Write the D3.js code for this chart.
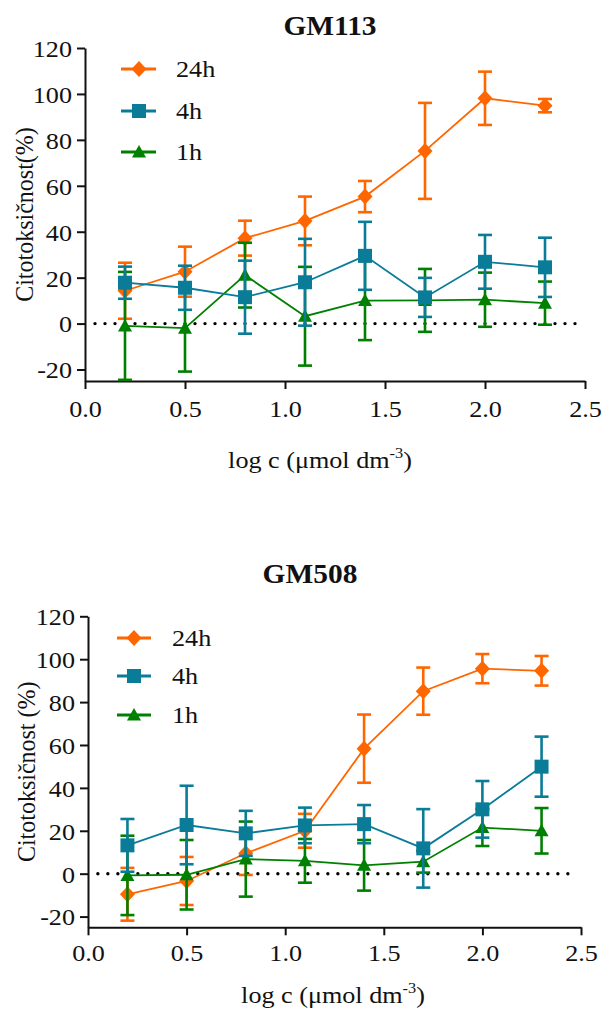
<!DOCTYPE html>
<html>
<head>
<meta charset="utf-8">
<script src="https://cdn.jsdelivr.net/npm/d3@7"></script>
<style>
  html, body { margin: 0; padding: 0; background: #fff; }
  svg { display: block; }
</style>
</head>
<body>
<svg id="chart" width="602" height="1011" font-family="Liberation Serif, Times New Roman, DejaVu Serif, serif"></svg>
<script>
// ---------------- DATA ----------------
const xValues = [0.2, 0.5, 0.8, 1.1, 1.4, 1.7, 2.0, 2.3];
const xTicks = [0, 0.5, 1.0, 1.5, 2.0, 2.5];
const yTicks = [-20, 0, 20, 40, 60, 80, 100, 120];
const seriesNames = ["24h", "4h", "1h"];
const panelTitles = ["GM113", "GM508"];
const yAxisTitles = ["Citotoksičnost(%)", "Citotoksičnost (%)"];

// GM113
const gm113_24h     = [14.3, 22.6, 37.2, 44.7, 55.3, 75.2, 98.1, 94.9];
const gm113_24h_err = [12.2, 10.9, 7.6, 10.6, 6.8, 20.9, 11.6, 2.9];
const gm113_4h      = [17.8, 15.6, 11.5, 18.0, 29.5, 11.4, 26.9, 24.5];
const gm113_4h_err  = [7.0, 9.6, 15.9, 18.9, 14.8, 8.5, 11.7, 12.9];
const gm113_1h      = [-1.0, -2.0, 21.1, 3.2, 10.0, 10.1, 10.4, 8.9];
const gm113_1h_err  = [23.5, 18.9, 14.1, 21.5, 17.2, 13.7, 11.8, 9.4];

// GM508
const gm508_24h     = [-9.6, -3.4, 9.5, 20.0, 58.3, 85.1, 95.6, 94.6];
const gm508_24h_err = [12.3, 11.2, 10.1, 7.9, 15.9, 11.0, 6.8, 6.9];
const gm508_4h      = [13.2, 22.7, 18.8, 22.5, 23.1, 11.8, 30.0, 49.9];
const gm508_4h_err  = [12.3, 18.3, 10.5, 8.3, 8.9, 18.3, 13.2, 14.0];
const gm508_1h      = [-0.8, -0.5, 6.8, 6.0, 3.9, 5.6, 21.5, 20.0];
const gm508_1h_err  = [18.5, 16.2, 17.5, 10.2, 11.8, 5.1, 8.6, 10.6];

// ---------------- STYLE / LAYOUT ----------------
const FONT = "Liberation Serif, Times New Roman, DejaVu Serif, serif";
const SX = 1.09; // horizontal stretch of the reference lettering
const colors = { "24h": "#FF6600", "4h": "#0A7C98", "1h": "#008000" };
const drawOrder = ["24h", "1h", "4h"];

const panels = [
  {
    title: panelTitles[0], yTitle: yAxisTitles[0],
    data: { "24h": [gm113_24h, gm113_24h_err], "4h": [gm113_4h, gm113_4h_err], "1h": [gm113_1h, gm113_1h_err] },
    left: 85, right: 585, top: 48, bottom: 381,
    titleX: 330, titleY: 35,
    yTitleX: 33, xTitleX: 320, xTitleY: 468, tickLabelDy: 36,
    legend: { x1: 121, x2: 156, mx: 139, ys: [69, 111, 152], tx: 176 }
  },
  {
    title: panelTitles[1], yTitle: yAxisTitles[1],
    data: { "24h": [gm508_24h, gm508_24h_err], "4h": [gm508_4h, gm508_4h_err], "1h": [gm508_1h, gm508_1h_err] },
    left: 88, right: 581, top: 616.3, bottom: 927.3,
    titleX: 310, titleY: 583,
    yTitleX: 35, xTitleX: 333, xTitleY: 1003, tickLabelDy: 34,
    legend: { x1: 117, x2: 151, mx: 134, ys: [638, 676, 715], tx: 172 }
  }
];

function markerPath(name) {
  if (name === "24h") return "M0,-8L7.5,0L0,8L-7.5,0Z";
  if (name === "4h") return "M-7,-7H7V7H-7Z";
  return "M0,-7L7,5.5L-7,5.5Z";
}

const svg = d3.select("#chart");

panels.forEach(p => {
  const g = svg.append("g");
  const x = d3.scaleLinear().domain([0, 2.5]).range([p.left, p.right]);
  const y = d3.scaleLinear().domain([-25, 120]).range([p.bottom, p.top]);

  // Title
  g.append("text").attr("transform", `translate(${p.titleX},${p.titleY}) scale(${SX},1)`)
    .attr("text-anchor", "middle").attr("font-family", FONT)
    .attr("font-weight", "bold").attr("font-size", 27).attr("fill", "#111")
    .text(p.title);

  // Axes
  const yAxis = d3.axisLeft(y).tickValues(yTicks).tickSize(8).tickSizeOuter(0).tickPadding(5)
    .tickFormat(d => String(d));
  const gy = g.append("g").attr("transform", `translate(${p.left},0)`).call(yAxis);
  const xAxis = d3.axisBottom(x).tickValues(xTicks).tickSize(8).tickSizeOuter(0)
    .tickFormat(d3.format(".1f"));
  const gx = g.append("g").attr("transform", `translate(0,${p.bottom})`).call(xAxis);

  [gx, gy].forEach(ax => {
    ax.attr("font-family", FONT).attr("font-size", 24);
    ax.select(".domain").attr("stroke", "#111").attr("stroke-width", 2);
    ax.selectAll(".tick line").attr("stroke", "#111").attr("stroke-width", 2);
    ax.selectAll(".tick text").attr("fill", "#111");
  });
  gx.selectAll(".tick text").attr("dy", null).attr("y", 0)
    .attr("transform", `translate(0,${p.tickLabelDy}) scale(${SX},1)`);
  gy.selectAll(".tick text").attr("dy", "0.35em").attr("x", 0)
    .attr("transform", `translate(-13,0) scale(${SX},1)`);

  // Axis titles
  g.append("text")
    .attr("transform", `translate(${p.yTitleX},${(p.top + p.bottom) / 2}) rotate(-90) scale(1,${SX})`)
    .attr("text-anchor", "middle").attr("font-family", FONT).attr("font-size", 24)
    .attr("fill", "#111").text(p.yTitle);

  const xt = g.append("text").attr("transform", `translate(${p.xTitleX},${p.xTitleY}) scale(${SX},1)`)
    .attr("text-anchor", "middle").attr("font-family", FONT).attr("font-size", 24).attr("fill", "#111");
  xt.append("tspan").text("log c (μmol dm");
  xt.append("tspan").attr("dy", -10).attr("font-size", 15).text("-3");
  xt.append("tspan").attr("dy", 10).text(")");

  // Dotted zero line
  g.append("line")
    .attr("x1", x(0.05)).attr("x2", x(2.46)).attr("y1", y(0)).attr("y2", y(0))
    .attr("stroke", "#000").attr("stroke-width", 3.4)
    .attr("stroke-linecap", "round").attr("stroke-dasharray", "0 10");

  // Series
  drawOrder.forEach(name => {
    const [vals, errs] = p.data[name];
    const pts = xValues.map((xv, i) => ({ x: xv, v: vals[i], e: errs[i] }));
    const col = colors[name];
    const sg = g.append("g");

    sg.append("path").datum(pts)
      .attr("fill", "none").attr("stroke", col).attr("stroke-width", 1.8)
      .attr("d", d3.line().x(d => x(d.x)).y(d => y(d.v)));

    const eb = sg.selectAll(".eb").data(pts).enter().append("g");
    eb.append("line").attr("x1", d => x(d.x)).attr("x2", d => x(d.x))
      .attr("y1", d => y(d.v + d.e)).attr("y2", d => y(d.v - d.e))
      .attr("stroke", col).attr("stroke-width", 2.6);
    eb.append("line").attr("x1", d => x(d.x) - 7).attr("x2", d => x(d.x) + 7)
      .attr("y1", d => y(d.v + d.e)).attr("y2", d => y(d.v + d.e))
      .attr("stroke", col).attr("stroke-width", 2.6);
    eb.append("line").attr("x1", d => x(d.x) - 7).attr("x2", d => x(d.x) + 7)
      .attr("y1", d => y(d.v - d.e)).attr("y2", d => y(d.v - d.e))
      .attr("stroke", col).attr("stroke-width", 2.6);

    sg.selectAll(".mk").data(pts).enter().append("path")
      .attr("transform", d => `translate(${x(d.x)},${y(d.v)})`)
      .attr("d", markerPath(name)).attr("fill", col);
  });

  // Legend
  seriesNames.forEach((name, i) => {
    const ly = p.legend.ys[i];
    const col = colors[name];
    g.append("line").attr("x1", p.legend.x1).attr("x2", p.legend.x2)
      .attr("y1", ly).attr("y2", ly).attr("stroke", col).attr("stroke-width", 3);
    g.append("path").attr("transform", `translate(${p.legend.mx},${ly})`)
      .attr("d", markerPath(name)).attr("fill", col);
    g.append("text").attr("transform", `translate(${p.legend.tx},${ly}) scale(${SX},1)`)
      .attr("dy", "0.35em")
      .attr("font-family", FONT).attr("font-size", 24).attr("fill", "#111").text(name);
  });
});
</script>
</body>
</html>
